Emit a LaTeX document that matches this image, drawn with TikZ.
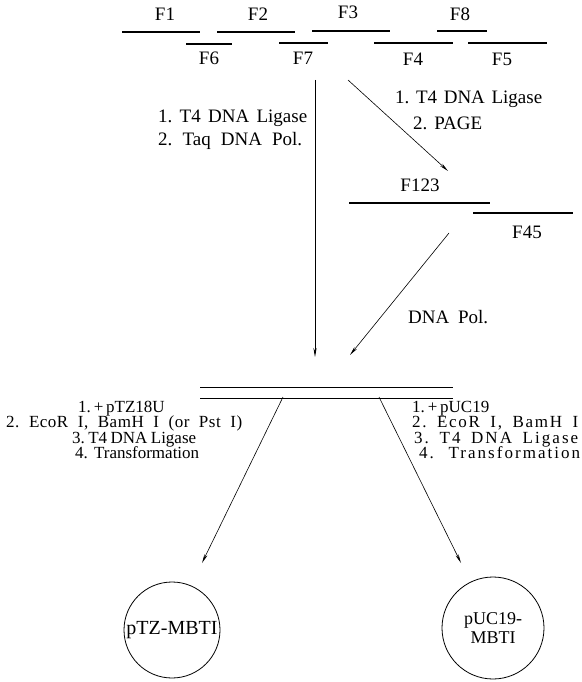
\documentclass[tikz,border=0pt]{standalone}
\usepackage{fontspec}
\setmainfont{Liberation Serif}
\usetikzlibrary{arrows.meta}

% a line of text whose word spaces are stretched to a given width
\newcommand{\spreadline}[2]{\makebox[#1pt][s]{\frenchspacing #2}}
% the same, with extra letter spacing
\newcommand{\spreadwide}[3]{\makebox[#1pt][s]{\addfontfeature{LetterSpace=#2}\frenchspacing #3}}

\begin{document}
\begin{tikzpicture}[x=1pt,y=-1pt,
  frag/.style={line width=1.1pt},
  dup/.style={line width=0.9pt},
  flow/.style={line width=0.6pt,-{Stealth[length=9pt,width=3.2pt]}},
  tag/.style={inner sep=0pt,font=\fontsize{19}{19}\selectfont},
  steptext/.style={inner sep=0pt,anchor=base west,font=\fontsize{19}{19}\selectfont},
  clonetext/.style={inner sep=0pt,anchor=base west,font=\fontsize{17}{17}\selectfont},
  plasmid/.style={circle,draw,line width=0.8pt,inner sep=0pt,align=center}]
\useasboundingbox (0,0) rectangle (581,682);

% synthetic oligonucleotide fragments
\draw[frag] (122,32) -- (200,32);   % F1
\draw[frag] (217,32) -- (295,32);   % F2
\draw[frag] (312,31) -- (390,31);   % F3
\draw[frag] (437,31) -- (487,31);   % F8
\draw[frag] (186,44) -- (232,44);   % F6
\draw[frag] (279,43) -- (328,43);   % F7
\draw[frag] (374,43) -- (453,43);   % F4
\draw[frag] (468,43) -- (547,43);   % F5

\node[tag,anchor=base] (lF1) at (165,21) {F1};
\node[tag,anchor=base] (lF2) at (258,21) {F2};
\node[tag,anchor=base] (lF3) at (348,19) {F3};
\node[tag,anchor=base] (lF8) at (460,21) {F8};
\node[tag,anchor=base] (lF6) at (209,65) {F6};
\node[tag,anchor=base] (lF7) at (303,65) {F7};
\node[tag,anchor=base] (lF4) at (413,66) {F4};
\node[tag,anchor=base] (lF5) at (502,66) {F5};

% intermediate duplexes F123 and F45
\draw[frag] (349,203) -- (490,203);
\draw[frag] (473,213) -- (573,213);
\node[tag,anchor=base] (lF123) at (420,191) {F123};
\node[tag,anchor=base] (lF45) at (527,238) {F45};

% full-length duplex
\draw[dup] (200,387) -- (453,387);
\draw[dup] (200,398) -- (453,398);

% arrow end points
\coordinate (topA) at (315,80);
\coordinate (endA) at (315,357);
\coordinate (topB) at (348,80);
\coordinate (endB) at (448,171);
\coordinate (topC) at (449,233);
\coordinate (endC) at (350,355);
\coordinate (topL) at (283,397);
\coordinate (endL) at (202,563);
\coordinate (topR) at (379,397);
\coordinate (endR) at (461,563);

\draw[flow] (topA) -- (endA);
\draw[flow] (topB) -- (endB);
\draw[flow] (topC) -- (endC);
\draw[flow] (topL) -- (endL);
\draw[flow] (topR) -- (endR);

% reaction steps
\node[steptext] (sl1) at (158,123) {\spreadline{149}{1. T4 DNA Ligase}};
\node[steptext] (sl2) at (158,145) {\spreadline{144}{2. Taq DNA Pol.}};
\node[steptext] (sr1) at (395,103) {\spreadline{147}{1. T4 DNA Ligase}};
\node[steptext] (sr2) at (413,129) {\spreadline{69}{2. PAGE}};
\node[steptext] (spol) at (408,323) {\spreadline{80}{DNA Pol.}};

% cloning steps
\node[clonetext] (cl1) at (78,412)    {\spreadline{86}{1. + pTZ18U}};
\node[clonetext] (cl2) at (6,427.5)   {\spreadwide{236}{3}{2. EcoR I, BamH I (or Pst I)}};
\node[clonetext] (cl3) at (72,443)    {\spreadline{124}{3. T4 DNA Ligase}};
\node[clonetext] (cl4) at (75,458.5)  {\spreadline{124}{4. Transformation}};
\node[clonetext] (cr1) at (412,412)   {\spreadline{76}{1. + pUC19}};
\node[clonetext] (cr2) at (412,427.5) {\spreadwide{166}{10}{2. EcoR I, BamH I}};
\node[clonetext] (cr3) at (414,443)   {\spreadwide{164}{12}{3. T4 DNA Ligase}};
\node[clonetext] (cr4) at (419,458.5) {\spreadwide{161}{12}{4. Transformation}};

% recombinant plasmids
\node[plasmid,minimum size=96pt,font=\fontsize{20}{20}\selectfont] (pTZ) at (172,630) {pTZ-MBTI};
\node[plasmid,minimum size=102pt,font=\fontsize{18}{19}\selectfont] (pUC) at (493,628) {pUC19-\\MBTI};
\end{tikzpicture}
\end{document}
